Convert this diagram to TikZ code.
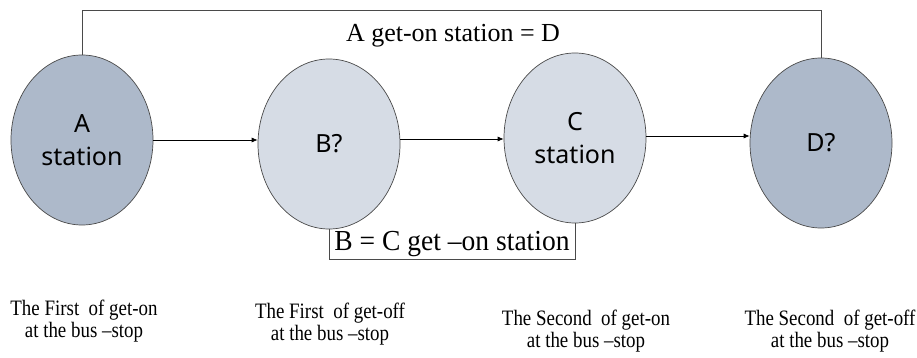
\documentclass[tikz,border=0pt]{standalone}
\usepackage{fontspec}
\setmainfont{Liberation Serif}
\newfontfamily\condserif[FakeStretch=0.86]{Liberation Serif}
\newfontfamily\midserif[FakeStretch=0.95]{Liberation Serif}
\newfontfamily\stsans{Noto Sans}
\usetikzlibrary{shapes.geometric,arrows.meta}
\definecolor{darkfill}{HTML}{ADB9CA}
\definecolor{lightfill}{HTML}{D6DCE5}
\definecolor{edgegray}{HTML}{4A4A4A}
\tikzset{
  stnode/.style={ellipse, draw=edgegray, line width=0.7pt, minimum width=142pt, minimum height=170pt, inner sep=0pt, align=center, font=\stsans\fontsize{25}{33}\selectfont},
  darkst/.style={stnode, fill=darkfill},
  lightst/.style={stnode, fill=lightfill},
  link/.style={draw=black, line width=0.7pt, -{Latex[length=6pt,width=5pt]}},
  frame/.style={draw=edgegray, line width=0.7pt},
  caption/.style={align=center, inner sep=0pt, font=\condserif\fontsize{22}{22}\selectfont}
}
\begin{document}
\begin{tikzpicture}[x=1pt,y=-1pt]
\useasboundingbox (0,0) rectangle (917,358);
\node[darkst]  (A) at (82,140) {A\\station};
\node[lightst] (B) at (329,144) {B?};
\node[lightst] (C) at (575,138) {C\\station};
\node[darkst]  (D) at (821,143) {D?};
\draw[frame] (A.north) -- (A.north |- 0,10) -| (D.north);
\node[inner sep=0pt, font=\fontsize{26}{28}\selectfont] (topl) at (453,36) {A get-on station = D};
\draw[frame] (B.south) -- (B.south |- 0,259) -| (C.south);
\node[inner sep=0pt, font=\midserif\fontsize{29}{30}\selectfont] (botl) at (452,244) {B = C get –on station};
\draw[link] (A.east |- 0,140) -- (B.west |- 0,140);
\draw[link] (B.east |- 0,139) -- (C.west |- 0,139);
\draw[link] (C.east |- 0,136) -- (D.west |- 0,136);
\node[caption] (l1) at (84,321) {The First\ \ of get-on\\at the bus –stop};
\node[caption] (l2) at (330,324) {The First\ \ of get-off\\at the bus –stop};
\node[caption] (l3) at (586,331) {The Second\ \ of get-on\\at the bus –stop};
\node[caption] (l4) at (830,331) {The Second\ \ of get-off\\at the bus –stop};
\end{tikzpicture}
\end{document}
